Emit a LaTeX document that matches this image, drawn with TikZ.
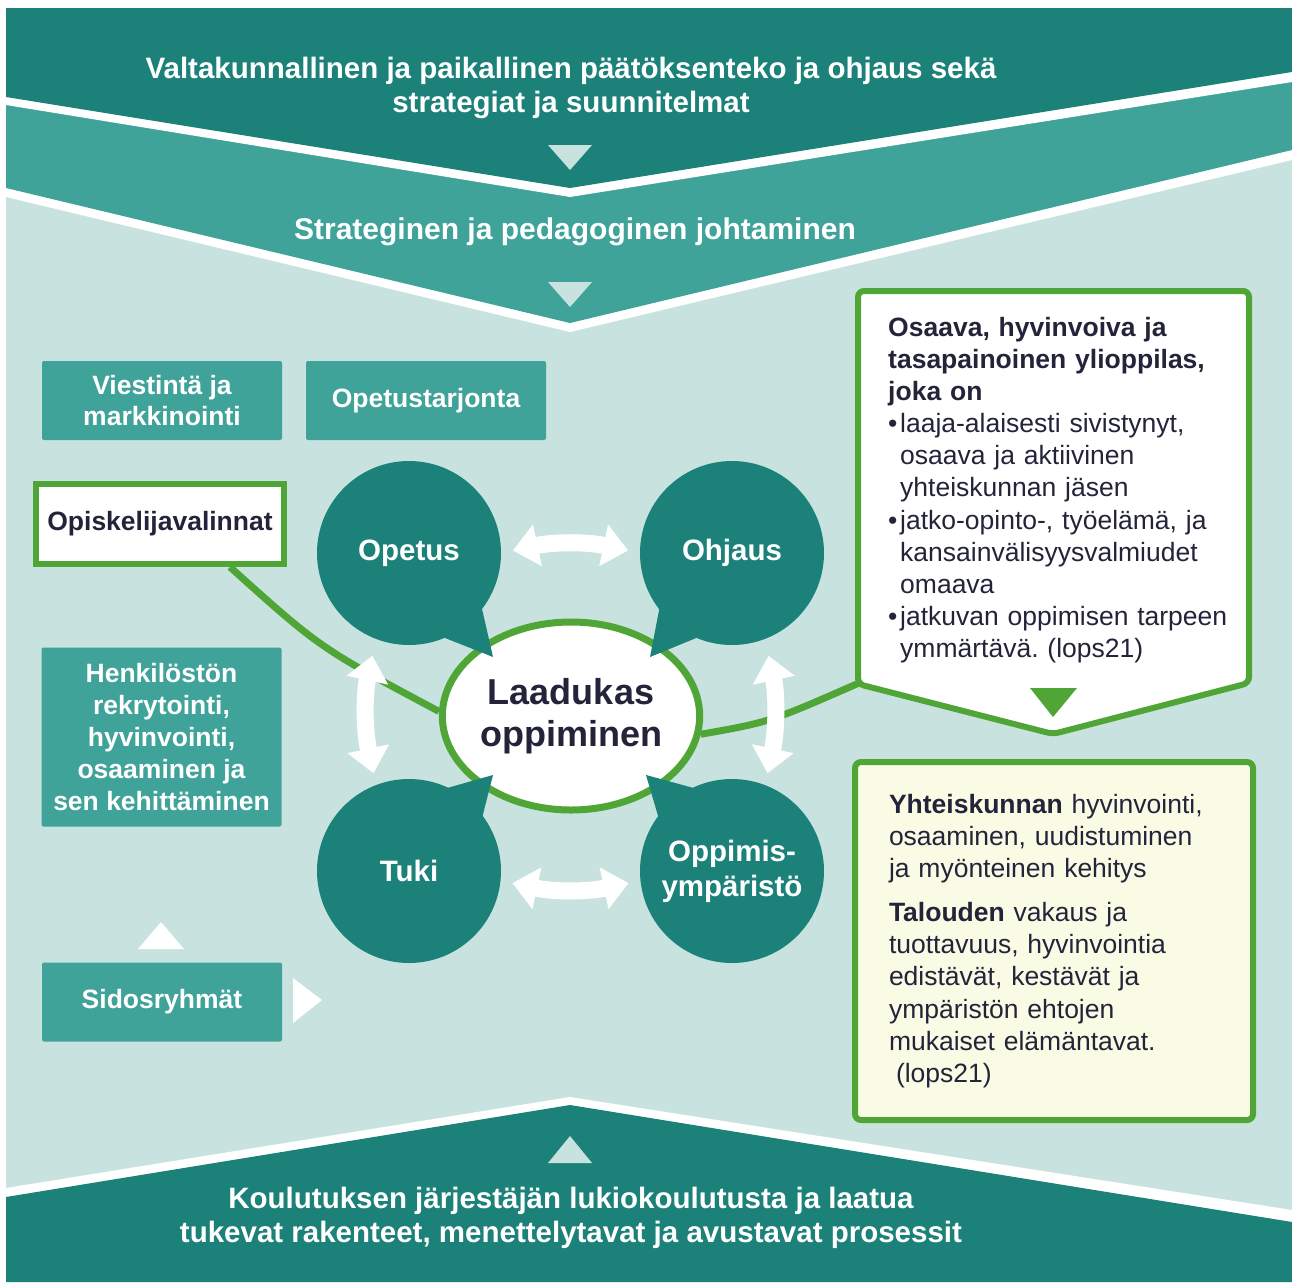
\documentclass[tikz,border=0pt]{standalone}
\usepackage{fontspec}
\setmainfont{Liberation Sans}
\usetikzlibrary{shapes.geometric,arrows.meta}
\definecolor{tummavihrea}{HTML}{1B8179}
\definecolor{keskivihrea}{HTML}{3FA39A}
\definecolor{vaalea}{HTML}{C8E3DF}
\definecolor{ruoho}{HTML}{4FA536}
\definecolor{tumma}{HTML}{23243A}
\definecolor{kerma}{HTML}{FAFBE5}
\frenchspacing

\begin{document}
\begin{tikzpicture}[x=1pt,y=-1pt,
    laatikko/.style={fill=keskivihrea, rounded corners=2pt, minimum width=240pt, minimum height=79pt, inner sep=0pt, text=white, align=center, font=\fontsize{26.5}{31.5}\selectfont\bfseries},
    pallo/.style={circle, fill=tummavihrea, minimum size=184pt, inner sep=0pt, text=white, align=center, font=\fontsize{29.5}{35}\selectfont\bfseries},
    otsikko/.style={text=white, align=center, font=\fontsize{29.5}{34.5}\selectfont\bfseries},
    kaari/.style={draw=ruoho, line width=7pt},
    nuoli/.style={draw=white, line width=17pt, {Triangle[width=41pt,length=25pt]}-{Triangle[width=41pt,length=25pt]}, shorten <=12pt, shorten >=12pt},
    kolmio/.style={fill=vaalea}]
    \useasboundingbox (0,0) rectangle (1292,1285);
    \fill[vaalea] (6,8) rectangle (1292,1282);
    \fill[white] (6,8) -- (1292,8) -- (1292,160) -- (570,332) -- (6,197) -- cycle;
    \fill[keskivihrea] (6,8) -- (1292,8) -- (1292,150) -- (570,323) -- (6,188) -- cycle;
    \fill[white] (6,8) -- (1292,8) -- (1292,82) -- (570,197) -- (6,105) -- cycle;
    \fill[tummavihrea] (6,8) -- (1292,8) -- (1292,72) -- (570,188) -- (6,97) -- cycle;
    \fill[white] (6,1188) -- (570,1097) -- (1292,1210) -- (1292,1282) -- (6,1282) -- cycle;
    \fill[tummavihrea] (6,1197) -- (570,1105) -- (1292,1222) -- (1292,1282) -- (6,1282) -- cycle;
    \fill[kolmio] (548,145) -- (592,145) -- (570,170) -- cycle;
    \fill[kolmio] (548,282) -- (592,282) -- (570,307) -- cycle;
    \fill[kolmio] (548,1163) -- (592,1163) -- (570,1136) -- cycle;

    \node[otsikko] (valtakunta) at (571,88) {Valtakunnallinen ja paikallinen päätöksenteko ja ohjaus sekä\\strategiat ja suunnitelmat};
    \node[otsikko, font=\fontsize{30}{34.5}\selectfont\bfseries] (johtaminen) at (575,232) {Strateginen ja pedagoginen johtaminen};
    \node[otsikko] (rakenteet) at (571,1218) {Koulutuksen järjestäjän lukiokoulutusta ja laatua\\tukevat rakenteet, menettelytavat ja avustavat prosessit};

    \node[laatikko] (viestinta) at (162,400.5) {Viestintä ja\\markkinointi};
    \node[laatikko] (tarjonta) at (426,400.5) {Opetustarjonta};
    \node[laatikko, minimum height=179pt, font=\fontsize{26.5}{32.2}\selectfont\bfseries] (henkilosto) at (161.5,737) {Henkilöstön\\rekrytointi,\\hyvinvointi,\\osaaminen ja\\sen kehittäminen};
    \node[laatikko] (sidos) at (162,1002) {Sidosryhmät};
    \fill[white] (138,949) -- (184,949) -- (161,922) -- cycle;
    \fill[white] (293,978) -- (293,1023) -- (322,1000) -- cycle;
    \node[draw=ruoho, line width=6pt, fill=white, minimum width=248pt, minimum height=80pt, inner sep=0pt, text=tumma, font=\fontsize{26.5}{31.5}\selectfont\bfseries] (valinnat) at (160,524) {Opiskelijavalinnat};

    \draw[draw=ruoho, line width=6pt, fill=white, rounded corners=6pt] (858,291) -- (1249,291) -- (1249,683) -- (1053,734) -- (858,684) -- cycle;
    \fill[ruoho] (1030,688) -- (1077,688) -- (1053,717) -- cycle;
    \coordinate (ylkulma) at (859,683);
    \node[anchor=north west, inner sep=0pt, text width=360pt, align=left, text=tumma, font=\fontsize{26.5}{32.1}\selectfont] (ylioppilas) at (888,317) {{\bfseries Osaava, hyvinvoiva ja\\ tasapainoinen ylioppilas,\\ joka on}\\
      \makebox[12pt][l]{•}laaja-alaisesti sivistynyt,\\ \hspace*{12pt}osaava ja aktiivinen\\ \hspace*{12pt}yhteiskunnan jäsen\\
      \makebox[12pt][l]{•}jatko-opinto-, työelämä, ja\\ \hspace*{12pt}kansainvälisyysvalmiudet\\ \hspace*{12pt}omaava\\
      \makebox[12pt][l]{•}jatkuvan oppimisen tarpeen\\ \hspace*{12pt}ymmärtävä. (lops21)};
    \node[draw=ruoho, line width=6pt, fill=kerma, rounded corners=6pt, minimum width=398pt, minimum height=358pt, inner xsep=34pt, text width=330pt, align=left, text=tumma, font=\fontsize{26.5}{32.1}\selectfont] (yhteiskunta) at (1054,941) {\textbf{Yhteiskunnan} hyvinvointi,\\ osaaminen, uudistuminen\\ ja myönteinen kehitys\\[12pt]
      \textbf{Talouden} vakaus ja\\ tuottavuus, hyvinvointia\\ edistävät, kestävät ja\\ ympäristön ehtojen\\ mukaiset elämäntavat.\\ \hspace*{7pt}(lops21)};

    \node[ellipse, draw=ruoho, line width=7pt, fill=white, minimum width=253pt, minimum height=188pt, inner sep=0pt, text=tumma, align=center, font=\fontsize{36}{42}\selectfont\bfseries] (laatu) at (571,716) {Laadukas\\oppiminen};
    \draw[kaari] ([xshift=70pt]valinnat.south) .. controls (320,648) .. (laatu.178);
    \draw[kaari] (laatu.-8) .. controls (770,722) .. (ylkulma);

    \node[pallo] (opetus) at (409,553) {Opetus};
    \fill[tummavihrea] (480,600) -- (493,657) -- (440,636) -- cycle;
    \node[pallo] (ohjaus) at (732,553) {Ohjaus};
    \fill[tummavihrea] (661,600) -- (650,657) -- (701,636) -- cycle;
    \node[pallo] (tuki) at (409,871) {Tuki};
    \fill[tummavihrea] (480,826) -- (493,775) -- (440,790) -- cycle;
    \node[pallo] (ymparisto) at (732,871) {Oppimis-\\ympäristö};
    \fill[tummavihrea] (661,826) -- (646,775) -- (701,790) -- cycle;

    \draw[nuoli] (opetus.east) to[bend left=12] (ohjaus.west);
    \draw[nuoli] (tuki.-6) to[bend right=12] (ymparisto.186);
    \draw[nuoli, shorten <=17pt] (opetus.249) to[bend right=12] (tuki.111);
    \draw[nuoli, shorten <=17pt] (ohjaus.291) to[bend left=12] (ymparisto.69);
  \end{tikzpicture}
\end{document}
